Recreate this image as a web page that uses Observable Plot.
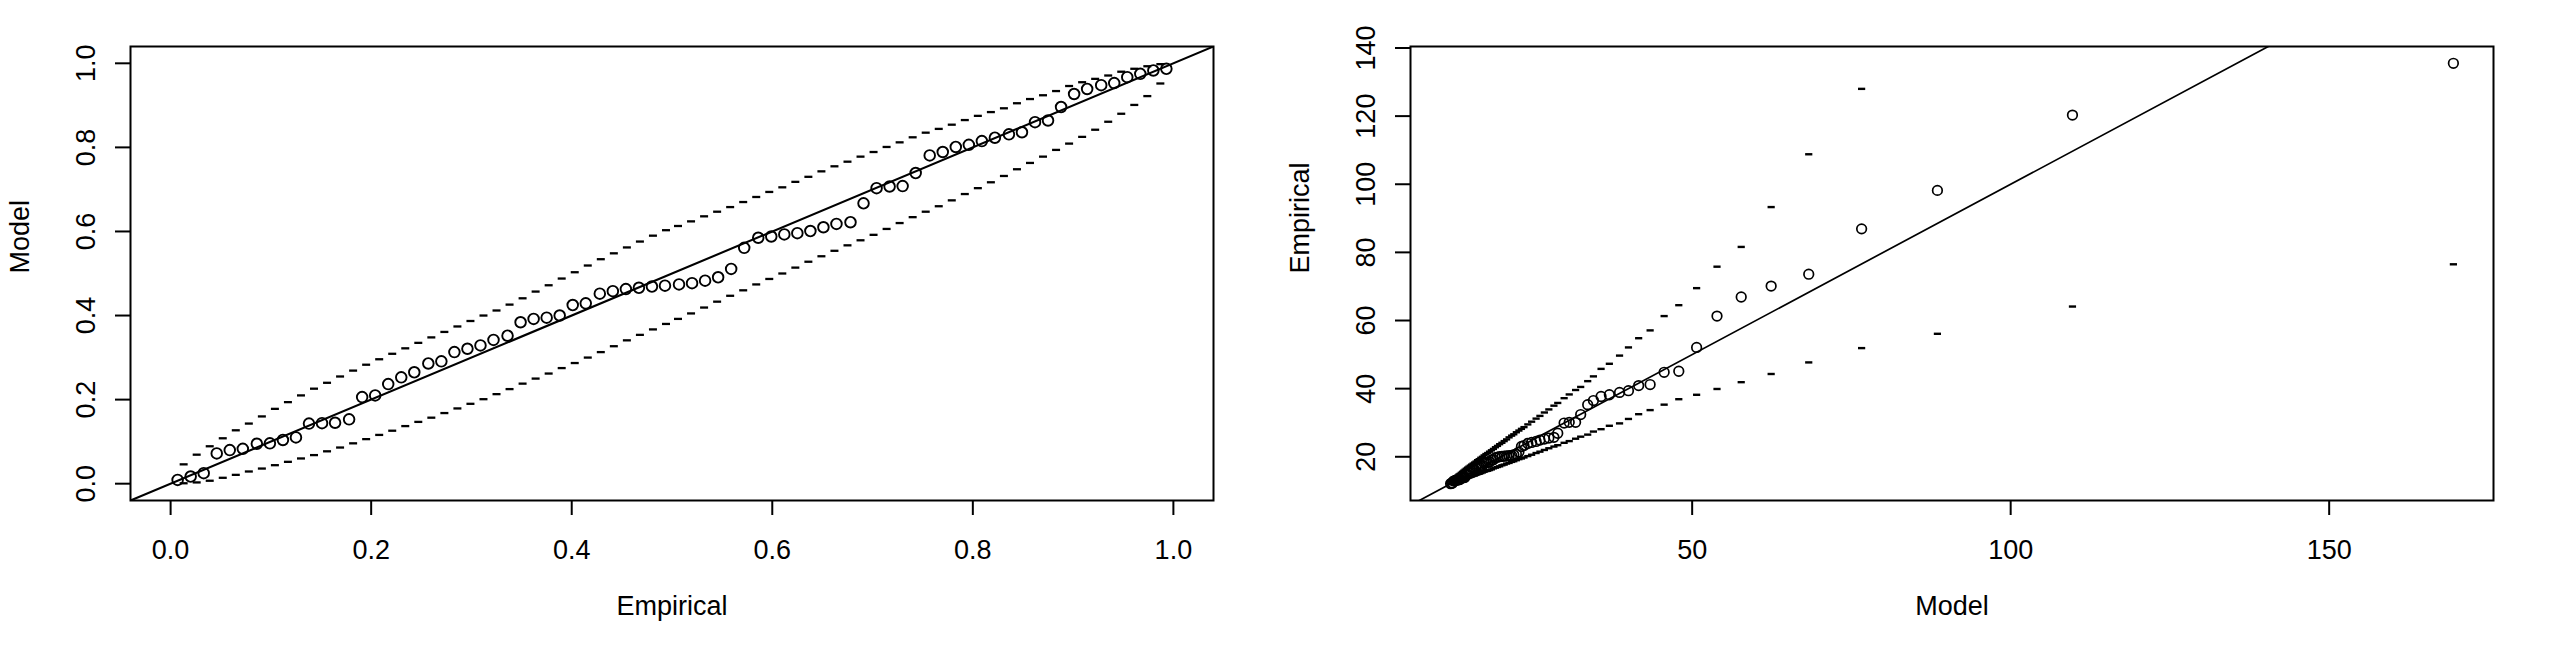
<!DOCTYPE html>
<html>
<head>
<meta charset="utf-8">
<script src="https://cdn.jsdelivr.net/npm/d3@7"></script>
<script src="https://cdn.jsdelivr.net/npm/@observablehq/plot@0.6"></script>
<style>
  html, body { margin: 0; padding: 0; background: #fff; }
  #row { display: flex; width: 2560px; height: 664px; background: #fff; }
</style>
</head>
<body>
<div id="row"></div>
<script>
// ---------- Left panel: probability plot (Empirical vs Model) ----------
const leftEmpirical = [0.007,0.020,0.033,0.046,0.059,0.072,0.086,0.099,0.112,0.125,
  0.138,0.151,0.164,0.178,0.191,0.204,0.217,0.230,0.243,0.257,
  0.270,0.283,0.296,0.309,0.322,0.336,0.349,0.362,0.375,0.388,
  0.401,0.414,0.428,0.441,0.454,0.467,0.480,0.493,0.507,0.520,
  0.533,0.546,0.559,0.572,0.586,0.599,0.612,0.625,0.638,0.651,
  0.664,0.678,0.691,0.704,0.717,0.730,0.743,0.757,0.770,0.783,
  0.796,0.809,0.822,0.836,0.849,0.862,0.875,0.888,0.901,0.914,
  0.928,0.941,0.954,0.967,0.980,0.993];
const leftModel = [0.009,0.017,0.025,0.072,0.080,0.083,0.095,0.096,0.104,0.110,
  0.143,0.144,0.145,0.153,0.206,0.210,0.237,0.253,0.265,0.286,
  0.291,0.313,0.321,0.329,0.342,0.352,0.384,0.392,0.395,0.400,
  0.425,0.429,0.452,0.458,0.463,0.466,0.469,0.471,0.474,0.477,
  0.483,0.491,0.511,0.561,0.585,0.588,0.593,0.596,0.601,0.610,
  0.618,0.622,0.667,0.703,0.707,0.708,0.739,0.781,0.789,0.801,
  0.806,0.815,0.823,0.831,0.836,0.860,0.864,0.896,0.927,0.939,
  0.948,0.953,0.967,0.975,0.983,0.987];
const leftEnvX = [0.013,0.026,0.039,0.052,0.065,0.078,0.091,0.104,0.117,0.130,
  0.143,0.156,0.169,0.182,0.195,0.208,0.221,0.234,0.247,0.260,
  0.273,0.286,0.299,0.312,0.325,0.338,0.351,0.364,0.377,0.390,
  0.403,0.416,0.429,0.442,0.455,0.468,0.481,0.494,0.506,0.519,
  0.532,0.545,0.558,0.571,0.584,0.597,0.610,0.623,0.636,0.649,
  0.662,0.675,0.688,0.701,0.714,0.727,0.740,0.753,0.766,0.779,
  0.792,0.805,0.818,0.831,0.844,0.857,0.870,0.883,0.896,0.909,
  0.922,0.935,0.948,0.961,0.974,0.987];
const leftEnvUpper = [0.046,0.069,0.089,0.108,0.127,0.143,0.160,0.178,0.194,0.210,
  0.226,0.240,0.255,0.269,0.283,0.296,0.309,0.322,0.335,0.348,
  0.361,0.374,0.387,0.400,0.412,0.426,0.441,0.457,0.472,0.488,
  0.503,0.519,0.534,0.548,0.562,0.576,0.590,0.603,0.613,0.624,
  0.636,0.647,0.658,0.670,0.682,0.694,0.705,0.718,0.730,0.743,
  0.755,0.766,0.778,0.789,0.801,0.812,0.824,0.835,0.844,0.854,
  0.865,0.875,0.884,0.893,0.905,0.915,0.924,0.934,0.946,0.955,
  0.963,0.971,0.980,0.987,0.993,0.998];
const leftEnvLower = [0.001,0.003,0.007,0.014,0.021,0.029,0.036,0.044,0.052,0.060,
  0.068,0.077,0.086,0.096,0.106,0.116,0.126,0.137,0.147,0.157,
  0.168,0.179,0.190,0.201,0.213,0.225,0.238,0.250,0.262,0.275,
  0.287,0.300,0.313,0.327,0.341,0.354,0.367,0.380,0.392,0.405,
  0.419,0.433,0.447,0.460,0.474,0.487,0.500,0.514,0.528,0.541,
  0.554,0.567,0.579,0.592,0.606,0.620,0.634,0.647,0.660,0.674,
  0.689,0.703,0.717,0.732,0.748,0.763,0.778,0.794,0.809,0.825,
  0.842,0.861,0.880,0.901,0.922,0.952];
const leftLimits = [0, 1];
const leftTicks = [0, 0.2, 0.4, 0.6, 0.8, 1.0];

// ---------- Right panel: quantile plot (Model vs Empirical) ----------
const rightModel = [12.08,12.23,12.39,12.55,12.71,12.88,13.05,13.22,13.40,13.58,
  13.76,13.95,14.14,14.34,14.54,14.74,14.95,15.17,15.38,15.61,
  15.84,16.07,16.31,16.56,16.82,17.08,17.34,17.62,17.90,18.19,
  18.49,18.80,19.12,19.44,19.78,20.13,20.49,20.87,21.26,21.66,
  22.0,22.4,22.8,23.2,23.6,24.2,24.8,25.5,26.1,26.8,
  27.5,28.3,28.9,29.9,30.7,31.7,32.5,33.6,34.5,35.7,
  37.0,38.6,40.0,41.6,43.4,45.6,47.9,50.7,53.9,57.7,
  62.4,68.3,76.6,88.5,109.7,169.5];
const rightEmpirical = [12.10,12.20,12.29,12.87,12.98,13.02,13.17,13.19,13.29,13.37,
  13.83,13.85,13.86,13.97,14.77,14.84,15.28,15.55,15.75,16.13,
  16.22,16.63,16.79,16.95,17.21,17.41,18.10,18.28,18.35,18.46,
  19.05,19.15,19.73,19.89,20.02,20.10,20.18,20.24,20.32,20.40,
  20.57,20.80,21.39,23.02,23.3,23.9,24.2,24.5,24.9,25.2,
  25.5,25.7,26.9,29.9,30.1,30.1,32.4,35.3,36.5,37.7,
  38.2,38.9,39.4,40.9,41.2,44.8,45.1,52.1,61.3,66.9,
  70.1,73.6,86.9,98.2,120.3,135.5];
const rightEnvUpper = [12.9,13.1,13.3,13.6,13.8,14.0,14.3,14.5,14.8,15.0,
  15.3,15.6,15.9,16.2,16.5,16.8,17.1,17.4,17.7,18.0,
  18.3,18.6,19.0,19.3,19.7,20.0,20.4,20.8,21.1,21.5,
  21.9,22.3,22.8,23.2,23.7,24.1,24.6,25.1,25.7,26.2,
  26.6,27.2,27.7,28.2,28.7,29.5,30.3,31.2,32.0,33.0,
  33.9,35.0,35.8,37.2,38.3,39.6,40.5,42.2,43.6,45.8,
  47.3,49.7,52.1,54.8,57.1,61.3,64.5,69.5,75.8,81.6,
  93.3,108.8,128.0,160,215,380];
const rightEnvLower = [12.0,12.1,12.2,12.3,12.4,12.5,12.6,12.8,12.9,13.0,
  13.1,13.3,13.4,13.5,13.7,13.8,13.9,14.1,14.2,14.4,
  14.5,14.7,14.9,15.0,15.2,15.4,15.6,15.8,15.9,16.1,
  16.3,16.6,16.8,17.0,17.2,17.5,17.7,18.0,18.2,18.5,
  18.7,19.0,19.3,19.5,19.8,20.2,20.6,21.1,21.5,22.0,
  22.5,23.0,23.4,24.1,24.6,25.3,25.9,26.5,27.4,28.1,
  29.1,29.8,31.1,32.5,33.7,35.3,36.9,38.2,39.9,41.9,
  44.3,47.7,51.9,56.1,64.1,76.5];
const rightXTicks = [50, 100, 150];
const rightYTicks = [20, 40, 60, 80, 100, 120, 140];

// ---------- helpers ----------
const FONT = "'Liberation Sans', Arial, Helvetica, sans-serif";
const pad = ([a, b]) => [a - 0.04 * (b - a), b + 0.04 * (b - a)];
const zip = (xs, ys) => xs.map((x, i) => ({x, y: ys[i]}));
const dash = {
  draw(context, size) {
    const r = Math.sqrt(size / Math.PI);
    context.moveTo(-r, 0);
    context.lineTo(r, 0);
  }
};

function panel(o) {
  const diag = [o.xDomain[0], o.xDomain[1]];
  return Plot.plot({
    width: 1280, height: 664,
    marginLeft: 130, marginRight: 67, marginTop: 46, marginBottom: 164,
    x: {domain: o.xDomain},
    y: {domain: o.yDomain},
    style: {fontFamily: FONT, fontSize: "27px", color: "black", background: "white", overflow: "visible"},
    marks: [
      Plot.frame({stroke: "black", strokeWidth: 2}),
      Plot.axisX({ticks: o.xTicks, tickSize: 15, tickPadding: 24, strokeWidth: 2,
        fontSize: 27, label: null, tickFormat: o.fmt}),
      Plot.axisY({ticks: o.yTicks, tickSize: 15, tickPadding: 21, tickRotate: -90,
        textAnchor: "middle", lineAnchor: "bottom", strokeWidth: 2,
        fontSize: 27, label: null, tickFormat: o.fmt}),
      Plot.line(diag, {x: d => d, y: d => d, clip: true, stroke: "black", strokeWidth: o.lineSW}),
      Plot.dot(o.upper, {x: "x", y: "y", symbol: dash, r: o.dashR, stroke: "black", fill: "none", strokeWidth: o.dashSW, clip: true}),
      Plot.dot(o.lower, {x: "x", y: "y", symbol: dash, r: o.dashR, stroke: "black", fill: "none", strokeWidth: o.dashSW, clip: true}),
      Plot.dot(o.points, {x: "x", y: "y", r: o.circleR, stroke: "black", fill: "none", strokeWidth: o.circleSW}),
      Plot.text([o.xLabel], {text: d => d, frameAnchor: "bottom", dy: 114, fontSize: 27, fill: "black"}),
      Plot.text([o.yLabel], {text: d => d, frameAnchor: "left", dx: -110, rotate: -90, fontSize: 27, fill: "black"})
    ]
  });
}

const row = document.getElementById("row");

row.appendChild(panel({
  xDomain: pad(leftLimits), yDomain: pad(leftLimits),
  xTicks: leftTicks, yTicks: leftTicks, fmt: d3.format(".1f"),
  xLabel: "Empirical", yLabel: "Model",
  points: zip(leftEmpirical, leftModel),
  upper: zip(leftEnvX, leftEnvUpper),
  lower: zip(leftEnvX, leftEnvLower),
  circleR: 5.3, circleSW: 1.9, dashR: 4.0, dashSW: 2.3, lineSW: 2.1
}));

row.appendChild(panel({
  xDomain: pad(d3.extent(rightModel)), yDomain: pad(d3.extent(rightEmpirical)),
  xTicks: rightXTicks, yTicks: rightYTicks, fmt: d => String(d),
  xLabel: "Model", yLabel: "Empirical",
  points: zip(rightModel, rightEmpirical),
  upper: zip(rightModel, rightEnvUpper),
  lower: zip(rightModel, rightEnvLower),
  circleR: 4.8, circleSW: 1.7, dashR: 3.6, dashSW: 2.4, lineSW: 1.7
}));
</script>
</body>
</html>
